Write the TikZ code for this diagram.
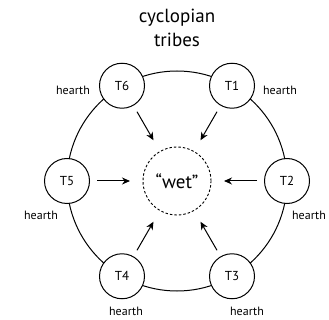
\documentclass[tikz,border=0pt]{standalone}
\usepackage{fontspec}
\setmainfont{PT Sans}
\usetikzlibrary{arrows.meta,calc}
\begin{document}
\begin{tikzpicture}[x=1pt,y=-1pt,
  tribe/.style={circle,draw,fill=white,line width=1pt,minimum size=45pt,inner sep=0pt,font=\fontsize{13}{15}\selectfont},
  lbl/.style={font=\fontsize{12}{14}\selectfont,inner sep=0pt},
  arr/.style={-{Stealth[length=8pt,width=7pt]},line width=1pt}]
\useasboundingbox (0,0) rectangle (329,320);
\node[font=\fontsize{19}{24}\selectfont,align=center,inner sep=0pt] (title) at (177,28) {cyclopian\\tribes};
\coordinate (c) at (177,181);
\draw[line width=1pt] (c) circle (110);
\node[circle,draw,dash pattern=on 2.5pt off 2pt,line width=0.9pt,minimum size=68pt,inner sep=0pt,font=\fontsize{19}{21}\selectfont] (wet) at (c) {``wet''};
\foreach \n/\a in {1/-60,2/0,3/60,4/120,5/180,6/240}{
  \node[tribe] (T\n) at ($(c)+(\a:110)$) {T\n};
}
\foreach \n/\a in {1/-60,2/0,3/60,4/120,5/180,6/240}{
  \coordinate (s\n) at ($(c)+(\a:80)$);
  \coordinate (e\n) at ($(c)+(\a:47)$);
  \draw[arr] (s\n) -- (e\n);
}
\node[lbl] (h6) at (73,90) {hearth};
\node[lbl] (h1) at (280,90) {hearth};
\node[lbl] (h5) at (41,215) {hearth};
\node[lbl] (h2) at (309,215) {hearth};
\node[lbl] (h4) at (126,311) {hearth};
\node[lbl] (h3) at (247,311) {hearth};
\end{tikzpicture}
\end{document}
